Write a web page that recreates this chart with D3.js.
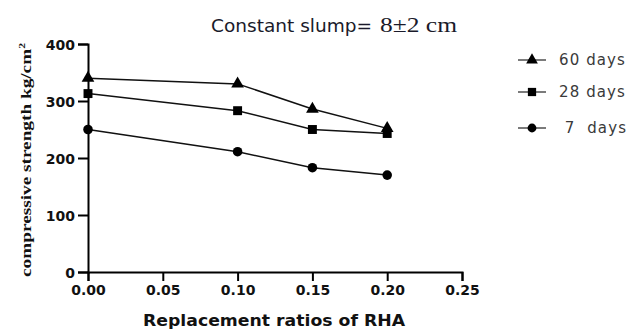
<!DOCTYPE html>
<html>
<head>
<meta charset="utf-8">
<script src="https://cdn.jsdelivr.net/npm/d3@7"></script>
<style>
  body { margin: 0; background: #fff; }
  svg { display: block; }
</style>
</head>
<body>
<div id="chart"></div>
<script>
// replacement ratios of RHA
var ratios = [0, 0.10, 0.15, 0.20];
// compressive strength kg/cm2
var days60 = [340, 330, 286, 252];
var days28 = [313, 283, 250, 243];
var days7 = [250, 211, 183, 170];
var seriesNames = ["60 days", "28 days", " 7  days"];
var xTicks = [0, 0.05, 0.10, 0.15, 0.20, 0.25];
var yTicks = [0, 100, 200, 300, 400];

var width = 633, height = 329;

var svg = d3.select("#chart").append("svg")
    .attr("width", width)
    .attr("height", height);

var x = d3.scaleLinear().domain([0, 0.25]).range([88, 462]);
var y = d3.scaleLinear().domain([0, 400]).range([272, 44]);

var series = [
  { name: seriesNames[0], values: days60, shape: d3.symbolTriangle, size: 70 },
  { name: seriesNames[1], values: days28, shape: d3.symbolSquare, size: 80 },
  { name: seriesNames[2], values: days7, shape: d3.symbolCircle, size: 72 }
];

// axes
var xAxis = d3.axisBottom(x)
    .tickValues(xTicks)
    .tickSize(9)
    .tickPadding(4)
    .tickFormat(d3.format(".2f"));

var yAxis = d3.axisLeft(y)
    .tickValues(yTicks)
    .tickSize(10)
    .tickPadding(3);

var gx = svg.append("g")
    .attr("transform", "translate(0,272)")
    .call(xAxis);

var gy = svg.append("g")
    .attr("transform", "translate(88,0)")
    .call(yAxis);

[gx, gy].forEach(function(g) {
  g.select(".domain").attr("stroke", "#000").attr("stroke-width", 2);
  g.selectAll(".tick line").attr("stroke", "#000").attr("stroke-width", 2);
  g.selectAll(".tick text")
      .attr("fill", "#111")
      .style("font-family", "DejaVu Sans")
      .style("font-weight", "bold")
      .style("font-size", "14px");
});
gy.selectAll(".tick text").attr("dy", "0.36em");

var line = d3.line()
    .x(function(d, i) { return x(ratios[i]); })
    .y(function(d) { return y(d); });

series.forEach(function(s) {
  svg.append("path")
      .datum(s.values)
      .attr("fill", "none")
      .attr("stroke", "#111")
      .attr("stroke-width", 1.5)
      .attr("d", line);

  svg.selectAll(null)
      .data(s.values)
    .enter().append("path")
      .attr("d", d3.symbol().type(s.shape).size(s.size))
      .attr("fill", "#000")
      .attr("transform", function(d, i) {
        return "translate(" + x(ratios[i]) + "," + y(d) + ")";
      });
});

// title
var title = svg.append("text")
    .attr("x", 211)
    .attr("y", 32)
    .attr("fill", "#1a1a2a");
title.append("tspan")
    .attr("textLength", 161)
    .attr("lengthAdjust", "spacingAndGlyphs")
    .style("font-family", "DejaVu Sans")
    .style("font-size", "18px")
    .text("Constant slump=");
title.append("tspan")
    .attr("x", 380)
    .attr("textLength", 77)
    .attr("lengthAdjust", "spacingAndGlyphs")
    .style("font-family", "Liberation Serif")
    .style("font-size", "22px")
    .text("8±2 cm");

// y label
svg.append("text")
    .attr("transform", "translate(31,160) rotate(-90)")
    .attr("text-anchor", "middle")
    .attr("textLength", 234)
    .attr("lengthAdjust", "spacingAndGlyphs")
    .style("font-family", "Liberation Serif")
    .style("font-weight", "bold")
    .style("font-size", "15px")
    .attr("fill", "#111")
    .html("compressive strength kg/cm<tspan dy='-6' font-size='9px'>2</tspan>");

// x label
svg.append("text")
    .attr("x", 274)
    .attr("y", 326)
    .attr("text-anchor", "middle")
    .attr("textLength", 262)
    .attr("lengthAdjust", "spacingAndGlyphs")
    .style("font-family", "DejaVu Sans")
    .style("font-weight", "bold")
    .style("font-size", "15px")
    .attr("fill", "#111")
    .text("Replacement ratios of RHA");

// legend
var legendY = [60, 92, 128];
var legend = svg.selectAll(".legend")
    .data(series)
  .enter().append("g")
    .attr("transform", function(d, i) { return "translate(532," + legendY[i] + ")"; });

legend.append("line")
    .attr("x1", -14).attr("x2", 14)
    .attr("stroke", "#222")
    .attr("stroke-width", 1.2);

legend.append("path")
    .attr("d", function(d) { return d3.symbol().type(d.shape).size(d.size * 0.85)(); })
    .attr("fill", "#000");

legend.append("text")
    .attr("x", 27)
    .attr("dy", "0.36em")
    .style("font-family", "DejaVu Sans")
    .style("font-size", "15px")
    .style("letter-spacing", "1.1px")
    .style("white-space", "pre")
    .attr("fill", "#3a3a3a")
    .text(function(d) { return d.name; });
</script>
</body>
</html>
